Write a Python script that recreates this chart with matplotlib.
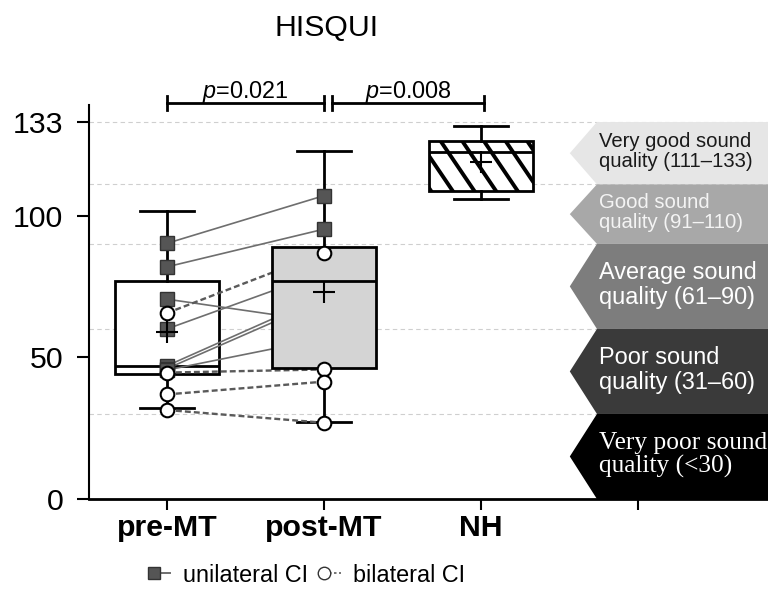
import numpy as np
import matplotlib.pyplot as plt
from matplotlib.lines import Line2D
from matplotlib.patches import Polygon
from matplotlib.legend_handler import HandlerLine2D

plt.rcParams['font.family'] = ['Liberation Sans', 'DejaVu Sans']
plt.rcParams['mathtext.fontset'] = 'custom'
plt.rcParams['mathtext.it'] = 'Liberation Sans:italic'
plt.rcParams['mathtext.rm'] = 'Liberation Sans'

groups = ['pre-MT', 'post-MT', 'NH', '']

# box statistics
whis_lo = [32, 27.3, 105.8]
q1 = [44.2, 46.3, 108.7]
med = [47, 76.9, 122.5]
q3 = [76.9, 89, 126.4]
whis_hi = [101.7, 122.7, 131.7]
means = [59, 72.9, 118.9]

# single subjects pre -> post
uni_pre = [90.2, 81.9, 70.5, 60, 47, 46, 45.5]
uni_post = [107, 95.2, 62.5, 80, 71.6, 70.2, 56.6]
bi_pre = [65.6, 44.6, 36.9, 31.4]
bi_post = [86.9, 45.7, 41.4, 26.9]

p_labels = ['0.021', '0.008']

band_labels = ['Very good sound\nquality (111\u2013133)', 'Good sound\nquality (91\u2013110)',
               'Average sound\nquality (61\u201390)', 'Poor sound\nquality (31\u201360)',
               'Very poor sound\nquality (<30)']
band_hi = [133, 111, 90, 60, 30]
band_lo = [111, 90, 60, 30, 0]

band_fill = ['#e6e6e6', '#a8a8a8', '#7d7d7d', '#3a3a3a', '#000000']
band_tc = ['#1a1a1a', '#f4f4f4', 'white', 'white', 'white']
band_fs = [14.6, 14.6, 16.9, 16.9, 18.3]
band_ff = ['Liberation Sans'] * 4 + ['Liberation Serif']

fig = plt.figure(figsize=(7.68, 5.96), dpi=100)
ax = fig.add_axes([89 / 768, 1 - 499 / 596, (768 - 89) / 768, (499 - 105) / 596])

pos = [1, 2, 3]
stats = []
for i in range(3):
    stats.append(dict(whislo=whis_lo[i], q1=q1[i], med=med[i], q3=q3[i],
                      whishi=whis_hi[i], mean=means[i], fliers=[]))
bp = ax.bxp(stats, positions=pos, widths=0.66, capwidths=0.34, patch_artist=True,
            showmeans=True,
            boxprops=dict(edgecolor='black', linewidth=2),
            whiskerprops=dict(color='black', linewidth=2),
            capprops=dict(color='black', linewidth=2),
            medianprops=dict(color='black', linewidth=2),
            meanprops=dict(marker='+', markersize=16, markeredgecolor='black',
                           markeredgewidth=1.5))
fills = ['white', '#d4d4d4', 'white']
zs = [1, 4, 1]
for i, b in enumerate(bp['boxes']):
    b.set_facecolor(fills[i])
    b.set_zorder(zs[i])
    bp['medians'][i].set_zorder(zs[i] + 0.1)
    bp['means'][i].set_zorder(6)
for w in bp['whiskers'] + bp['caps']:
    w.set_zorder(1.5)

# hatch of NH box
nh = bp['boxes'][2]
for x0 in np.arange(2.3, 3.5, 0.138):
    hl, = ax.plot([x0, x0 + 0.01222 * 40], [140, 100], color='black', lw=2.8, zorder=1.2)
    hl.set_clip_path(nh)

# paired subjects
for a, b in zip(uni_pre, uni_post):
    ax.plot([1, 2], [a, b], color='#6e6e6e', lw=1.2, zorder=2)
for a, b in zip(bi_pre, bi_post):
    ax.plot([1, 2], [a, b], color='#5a5a5a', lw=1.7, ls=(0, (2.5, 1.3)), zorder=2)
ax.plot([1] * len(uni_pre), uni_pre, 's', ms=9.8, mfc='#555555', mec='#333333', mew=1, zorder=3)
ax.plot([2] * len(uni_post), uni_post, 's', ms=9.8, mfc='#555555', mec='#333333', mew=1, zorder=3)
ax.plot([1] * len(bi_pre), bi_pre, 'o', ms=9.8, mfc='white', mec='black', mew=1.5, zorder=5)
ax.plot([2] * len(bi_post), bi_post, 'o', ms=9.8, mfc='white', mec='black', mew=1.5, zorder=5)

# grid + quality bands
for v in band_hi:
    ax.axhline(v, color='#cfcfcf', lw=0.8, ls=(0, (4, 3)), zorder=0.5)
tip, body, right = 3.567, 3.74, 5.0
for i in range(5):
    mid = (band_hi[i] + band_lo[i]) / 2
    poly = Polygon([(tip, mid), (body, band_hi[i]), (right, band_hi[i]),
                    (right, band_lo[i]), (body, band_lo[i])], closed=True,
                   facecolor=band_fill[i], edgecolor='none', zorder=3, clip_on=False)
    ax.add_patch(poly)
    ax.text(3.75, mid + 0.5, band_labels[i], color=band_tc[i], fontsize=band_fs[i],
            family=[band_ff[i], 'DejaVu Sans'], va='center', ha='left',
            linespacing=1.08, zorder=4, clip_on=False)

# significance brackets
brackets = [(1.0, 2.0), (2.05, 3.02)]
yb = 139.7
for (xa, xb), p in zip(brackets, p_labels):
    ax.plot([xa, xb], [yb, yb], color='black', lw=2, clip_on=False, zorder=6)
    ax.plot([xa, xa], [yb - 2.5, yb + 2.5], color='black', lw=2, clip_on=False, zorder=6)
    ax.plot([xb, xb], [yb - 2.5, yb + 2.5], color='black', lw=2, clip_on=False, zorder=6)
    ax.text((xa + xb) / 2, 141.6, '$\\it{p}$=' + p, ha='center', va='baseline',
            fontsize=16.8, clip_on=False)

ax.set_xlim(0.503, 4.83)
ax.set_ylim(0, 139)
ax.set_yticks([0, 50, 100, 133])
ax.set_yticklabels(['0', '50', '100', '133'], fontsize=21.8)
ax.set_xticks([1, 2, 3, 4])
ax.set_xticklabels(groups, fontsize=21.8, fontweight='bold')
ax.tick_params(axis='y', direction='out', length=8.5, width=1.5, pad=10)
ax.tick_params(axis='x', direction='out', length=8, width=1.5, pad=3)
ax.spines['top'].set_visible(False)
ax.spines['right'].set_visible(False)
ax.spines['left'].set_linewidth(1.5)
ax.spines['bottom'].set_linewidth(2)
ax.spines['bottom'].set_zorder(2.5)

fig.text(327 / 768, 1 - 28 / 596, 'HISQUI', ha='center', va='center', fontsize=21.8)


class LeftMarker(HandlerLine2D):
    def create_artists(self, legend, orig_handle, xdescent, ydescent, width, height,
                       fontsize, trans):
        arts = super().create_artists(legend, orig_handle, xdescent, ydescent, width,
                                      height, fontsize, trans)
        arts[-1].set_markevery([0])
        return arts


h1 = Line2D([], [], color='#6e6e6e', lw=1.4, marker='s', ms=9, mfc='#555555', mec='#333333')
h2 = Line2D([], [], color='#5e5e5e', lw=1.2, ls=(0, (1.5, 1.5)), marker='o', ms=9,
            mfc='white', mec='#333333')
fig.legend([h1, h2], ['unilateral CI', 'bilateral CI'], loc='center',
           bbox_to_anchor=(306 / 768, 1 - 575 / 596), ncol=2, frameon=False,
           fontsize=16.8, handlelength=1.3, handletextpad=0.25, columnspacing=0.4,
           handler_map={h1: LeftMarker(numpoints=2), h2: LeftMarker(numpoints=2)})

fig.savefig('out.png', dpi=100)
